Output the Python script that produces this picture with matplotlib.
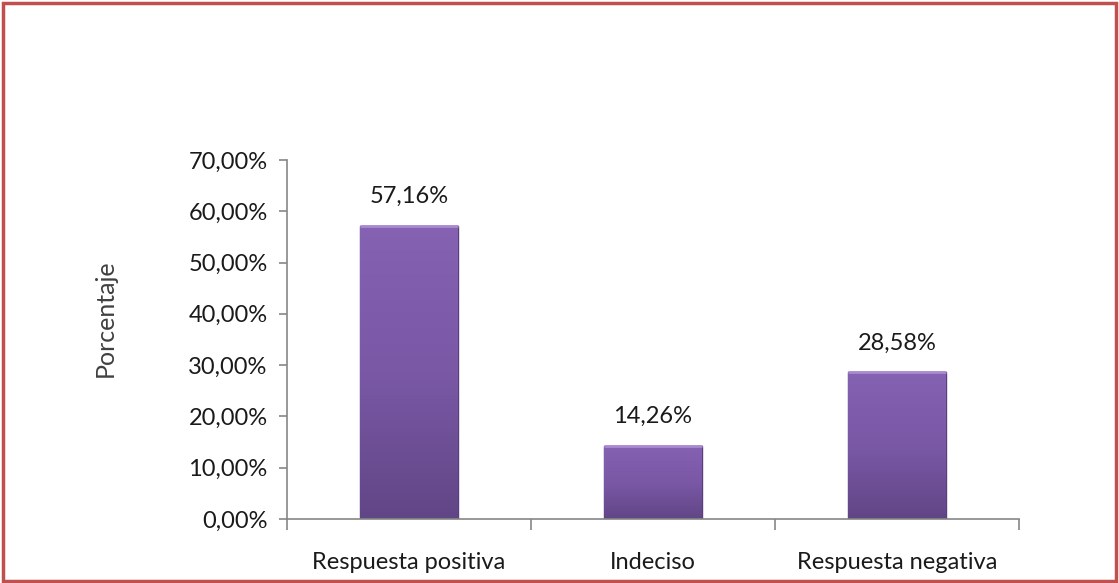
import numpy as np
import matplotlib
matplotlib.use("Agg")
import matplotlib.pyplot as plt
from matplotlib.patches import Rectangle
from matplotlib.colors import LinearSegmentedColormap

categories = ["Respuesta positiva", "Indeciso", "Respuesta negativa"]
values = [57.16, 14.26, 28.58]
labels = ["57,16%", "14,26%", "28,58%"]
yticks = [0, 10, 20, 30, 40, 50, 60, 70]
ytick_labels = ["0,00%", "10,00%", "20,00%", "30,00%", "40,00%", "50,00%", "60,00%", "70,00%"]

plt.rcParams["font.family"] = ["Lato", "DejaVu Sans"]
FS = 17

fig = plt.figure(figsize=(11.19, 5.83), dpi=100)
ax = fig.add_axes([0.2565, 0.1098, 0.6541, 0.6158])

x = np.arange(len(categories))
bar_width = 0.4
bars = ax.bar(x, values, width=bar_width, color="#7656a0", edgecolor="#5a3f7e",
              linewidth=1.0, zorder=2)

# vertical gradient inside each bar
cmap = LinearSegmentedColormap.from_list("purp", ["#614686", "#7a58a6", "#8562b2"])
grad = np.linspace(0, 1, 256).reshape(-1, 1)
for b in bars:
    x0 = b.get_x()
    h = b.get_height()
    im = ax.imshow(grad, aspect="auto", cmap=cmap, origin="lower",
                   extent=(x0, x0 + b.get_width(), 0, h), zorder=2.5)
    im.set_clip_path(b)
    # light top edge bevel
    ax.plot([x0, x0 + b.get_width()], [h, h], color="#a98ad0", lw=2, zorder=3,
            solid_capstyle="butt")

for xi, v, lab in zip(x, values, labels):
    ax.annotate(lab, (xi, v), xytext=(0, 21), textcoords="offset points",
                ha="center", va="center", fontsize=FS, color="#1a1a1a")

ax.set_xlim(-0.5, len(categories) - 0.5)
ax.set_ylim(0, 70)
ax.set_yticks(yticks)
ax.set_yticklabels(ytick_labels, fontsize=FS, color="#1a1a1a")
ax.set_xticks(x)
ax.set_xticklabels(categories, fontsize=FS, color="#1a1a1a")
ax.set_xticks(np.arange(len(categories) + 1) - 0.5, minor=True)

ax.tick_params(axis="x", which="major", length=0, pad=24)
ax.tick_params(axis="x", which="minor", length=8, color="#868686", width=1.2)
ax.tick_params(axis="y", length=6, color="#868686", width=1.2, pad=8)

for s in ["top", "right"]:
    ax.spines[s].set_visible(False)
for s in ["left", "bottom"]:
    ax.spines[s].set_color("#868686")
    ax.spines[s].set_linewidth(1.2)

ax.set_ylabel("Porcentaje", fontsize=18, color="#404040")
ax.yaxis.set_label_coords(-0.232, 0.56)

# red frame around the chart
fig.patches.append(Rectangle((0.003, 0.004), 0.994, 0.991, transform=fig.transFigure,
                             fill=False, edgecolor="#c0504d", linewidth=2.5))

fig.savefig("out.png", dpi=100)
